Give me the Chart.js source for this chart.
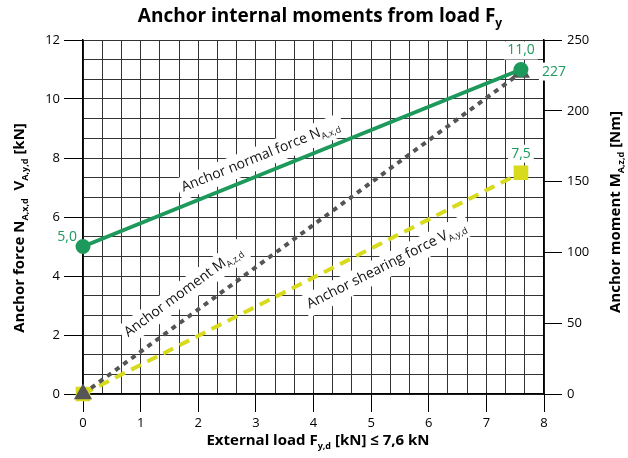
<!DOCTYPE html>
<html>
<head>
<meta charset="utf-8">
<script src="https://cdn.jsdelivr.net/npm/chart.js@4.4.0/dist/chart.umd.min.js"></script>
<style>
  html, body { margin: 0; padding: 0; background: #fff; }
  #wrap { width: 628px; height: 458px; position: relative; }
</style>
</head>
<body>
<div id="wrap"><canvas id="anchorChart"></canvas></div>
<script>
// Values
const loadPoints = [0, 7.6];        // external load F_y,d [kN]
const normalForce = [5.0, 11.0];    // N_A,x,d [kN]
const shearForce = [0, 7.5];        // V_A,y,d [kN]
const moment = [0, 227];            // M_A,z,d [Nm]
const normalLabels = ['5,0', '11,0'];
const shearLabels = ['', '7,5'];
const momentLabels = ['', '227'];

// Tick / grid positions
const xTicks = [0, 1, 2, 3, 4, 5, 6, 7, 8];
const yTicks = [0, 2, 4, 6, 8, 10, 12];
const momentTicks = [0, 50, 100, 150, 200, 250];
const xGrid = Array.from({ length: 25 }, (_, i) => i / 3);
const yGrid = Array.from({ length: 19 }, (_, i) => i * 2 / 3);

const GREEN = '#1d9a5b';
const GRAY = '#555555';
const YELLOW = '#d8db1c';
const FONT = "'Open Sans', sans-serif";

function isOn(list, v) {
  return list.some(t => Math.abs(t - v) < 1e-6);
}

// draws text with subscripts, parts = [[text, isSub], ...]
function drawRich(ctx, parts, x, y, size, weight, color, align) {
  const subSize = Math.round(size * 0.62);
  const fontFor = sub => weight + ' ' + (sub ? subSize : size) + 'px ' + FONT;
  let width = 0;
  parts.forEach(p => { ctx.font = fontFor(p[1]); width += ctx.measureText(p[0]).width; });
  let cx = align === 'center' ? x - width / 2 : (align === 'right' ? x - width : x);
  ctx.fillStyle = color;
  ctx.textAlign = 'left';
  ctx.textBaseline = 'middle';
  parts.forEach(p => {
    ctx.font = fontFor(p[1]);
    ctx.fillText(p[0], cx, p[1] ? y + size * 0.36 : y);
    cx += ctx.measureText(p[0]).width;
  });
  return width;
}

const lineLabels = [
  { ds: 0, t: 0.42, off: -17, parts: [['Anchor normal force N', 0], ['A,x,d', 1]] },
  { ds: 1, t: 0.26, off: -23, parts: [['Anchor moment M', 0], ['A,z,d', 1]] },
  { ds: 2, t: 0.67, off: 22, parts: [['Anchor shearing force V', 0], ['A,y,d', 1]] }
];

const valueLabels = [
  { ds: 0, labels: normalLabels, pos: ['left', 'top'] },
  { ds: 1, labels: momentLabels, pos: ['', 'right'] },
  { ds: 2, labels: shearLabels, pos: ['', 'top'] }
];

const annotations = {
  id: 'annotations',
  beforeDatasetsDraw(chart) {
    const ctx = chart.ctx;
    // labels along the lines
    lineLabels.forEach(l => {
      const pts = chart.getDatasetMeta(l.ds).data;
      const p0 = pts[0], p1 = pts[1];
      const a = Math.atan2(p1.y - p0.y, p1.x - p0.x);
      const bx = p0.x + l.t * (p1.x - p0.x) - l.off * Math.sin(a);
      const by = p0.y + l.t * (p1.y - p0.y) + l.off * Math.cos(a);
      ctx.save();
      ctx.translate(bx, by);
      ctx.rotate(a);
      let w = 0;
      l.parts.forEach(p => {
        ctx.font = (p[1] ? 9 : 14) + 'px ' + FONT;
        w += ctx.measureText(p[0]).width;
      });
      ctx.fillStyle = '#fff';
      ctx.fillRect(-w / 2 - 4, -11, w + 8, 23);
      drawRich(ctx, l.parts, 0, 0, 14, 'normal', '#111', 'center');
      ctx.restore();
    });
    // value labels at the end points
    valueLabels.forEach(v => {
      const pts = chart.getDatasetMeta(v.ds).data;
      v.labels.forEach((txt, i) => {
        if (!txt) return;
        const p = pts[i];
        ctx.font = '14px ' + FONT;
        const w = ctx.measureText(txt).width;
        let x = p.x, y = p.y;
        if (v.pos[i] === 'top') { y = p.y - 19; }
        if (v.pos[i] === 'left') { x = p.x - 6 - w / 2; y = p.y - 9; }
        if (v.pos[i] === 'right') { x = p.x + 33; y = p.y - 1; }
        ctx.fillStyle = '#fff';
        ctx.fillRect(x - w / 2 - 3, y - 9, w + 6, 18);
        drawRich(ctx, [[txt, 0]], x, y, 14, 'normal', GREEN, 'center');
      });
    });
  },
  afterDraw(chart) {
    const ctx = chart.ctx;
    drawRich(ctx, [['Anchor internal moments from load F', 0], ['y', 1]], 320, 17, 19, 'bold', '#000', 'center');
    drawRich(ctx, [['External load F', 0], ['y,d', 1], [' [kN] \u2264 7,6 kN', 0]], 318, 441, 15, 'bold', '#000', 'center');
    ctx.save();
    ctx.translate(20, 228);
    ctx.rotate(-Math.PI / 2);
    drawRich(ctx, [['Anchor force N', 0], ['A,x,d', 1], ['  V', 0], ['A,y,d', 1], [' [kN]', 0]], 0, 0, 15, 'bold', '#000', 'center');
    ctx.restore();
    ctx.save();
    ctx.translate(616, 212);
    ctx.rotate(-Math.PI / 2);
    drawRich(ctx, [['Anchor moment M', 0], ['A,z,d', 1], [' [Nm]', 0]], 0, 0, 15, 'bold', '#000', 'center');
    ctx.restore();
  }
};

const toPoints = vals => loadPoints.map((x, i) => ({ x: x, y: vals[i] }));

new Chart(document.getElementById('anchorChart').getContext('2d'), {
  type: 'line',
  data: {
    datasets: [{
      label: 'Anchor normal force',
      data: toPoints(normalForce),
      yAxisID: 'y',
      borderColor: GREEN,
      backgroundColor: GREEN,
      borderWidth: 4,
      pointStyle: 'circle',
      pointRadius: 5.5,
      clip: false,
      order: 1
    }, {
      label: 'Anchor moment',
      data: toPoints(moment),
      yAxisID: 'y1',
      borderColor: GRAY,
      backgroundColor: GRAY,
      borderWidth: 4,
      borderDash: [5, 5],
      pointStyle: 'triangle',
      pointRadius: 6.5,
      clip: false,
      order: 2
    }, {
      label: 'Anchor shearing force',
      data: toPoints(shearForce),
      yAxisID: 'y',
      borderColor: YELLOW,
      backgroundColor: YELLOW,
      borderWidth: 4,
      borderDash: [11, 7],
      pointStyle: 'rect',
      pointRadius: 7.5,
      clip: false,
      order: 3
    }]
  },
  options: {
    responsive: true,
    maintainAspectRatio: false,
    animation: false,
    layout: { padding: { top: 40, bottom: 0, left: 0, right: 0 } },
    plugins: {
      legend: { display: false },
      tooltip: { enabled: false }
    },
    scales: {
      x: {
        type: 'linear',
        min: 0,
        max: 8,
        afterBuildTicks: s => { s.ticks = xGrid.map(v => ({ value: v })); },
        afterFit: s => { s.height = 64; },
        ticks: {
          autoSkip: false,
          maxRotation: 0,
          padding: 3,
          color: '#000',
          font: { family: FONT, size: 13 },
          callback: v => isOn(xTicks, v) ? String(Math.round(v)) : ''
        },
        grid: {
          color: '#333',
          lineWidth: 1,
          tickLength: 18,
          tickColor: c => isOn(xTicks, c.tick.value) ? '#000' : 'rgba(0,0,0,0)'
        },
        border: { color: '#000', width: 1.5 }
      },
      y: {
        type: 'linear',
        position: 'left',
        min: 0,
        max: 12,
        afterBuildTicks: s => { s.ticks = yGrid.map(v => ({ value: v })); },
        afterFit: s => { s.width = 83; },
        ticks: {
          autoSkip: false,
          padding: 4,
          color: '#000',
          font: { family: FONT, size: 13 },
          callback: v => isOn(yTicks, v) ? String(Math.round(v)) : ''
        },
        grid: {
          color: '#333',
          lineWidth: 1,
          tickLength: 19,
          tickColor: c => isOn(yTicks, c.tick.value) ? '#000' : 'rgba(0,0,0,0)'
        },
        border: { color: '#000', width: 1.5 }
      },
      y1: {
        type: 'linear',
        position: 'right',
        min: 0,
        max: 250,
        afterBuildTicks: s => { s.ticks = momentTicks.map(v => ({ value: v })); },
        afterFit: s => { s.width = 84; },
        ticks: {
          padding: 5,
          color: '#000',
          font: { family: FONT, size: 13 }
        },
        grid: {
          drawOnChartArea: false,
          tickLength: 18,
          tickColor: '#000'
        },
        border: { color: '#000', width: 1.5 }
      }
    }
  },
  plugins: [annotations]
});
</script>
</body>
</html>
